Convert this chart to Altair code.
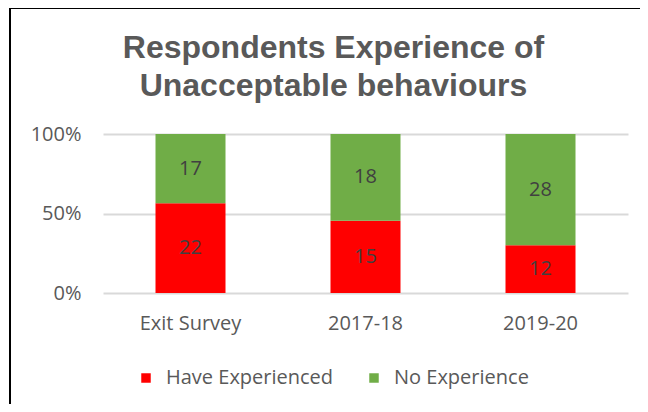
import altair as alt
import pandas as pd

categories = ["Exit Survey", "2017-18", "2019-20"]
series = ["Have Experienced", "No Experience"]
have_experienced = [22, 15, 12]
no_experience = [17, 18, 28]
colors = ["#FF0000", "#70AD47"]

rows = []
for i, c in enumerate(categories):
    rows.append({"category": c, "series": series[0], "value": have_experienced[i], "ord": 0})
    rows.append({"category": c, "series": series[1], "value": no_experience[i], "ord": 1})
df = pd.DataFrame(rows)

FONT = "Open Sans"
GRAY = "#595959"

base = alt.Chart(df).transform_stack(
    stack="value",
    groupby=["category"],
    as_=["y0", "y1"],
    offset="normalize",
    sort=[alt.SortField("ord", order="ascending")],
).transform_calculate(mid="(datum.y0 + datum.y1) / 2")

x_enc = alt.X(
    "category:N",
    sort=categories,
    title=None,
    scale=alt.Scale(paddingInner=0.6, paddingOuter=0.3),
    axis=alt.Axis(labelAngle=0, labelFont=FONT, labelFontSize=20, labelColor=GRAY,
                  ticks=False, domain=False, labelPadding=20),
)

bars = base.mark_bar().encode(
    x=x_enc,
    y=alt.Y("y0:Q", title=None, scale=alt.Scale(domain=[0, 1]),
            axis=alt.Axis(values=[0, 0.5, 1], format="%", labelFont=FONT, labelFontSize=20,
                          labelColor=GRAY, ticks=False, domain=False, labelPadding=22,
                          gridColor="#D9D9D9", gridWidth=2)),
    y2="y1:Q",
    color=alt.Color("series:N", scale=alt.Scale(domain=series, range=colors), title=None,
                    legend=alt.Legend(orient="none", legendX=33, legendY=234, direction="horizontal",
                                      columns=2, symbolType="square", symbolSize=90,
                                      symbolStrokeWidth=0, labelFont=FONT, labelFontSize=20,
                                      labelColor=GRAY, labelOffset=10, columnPadding=30,
                                      labelLimit=400, padding=0)),
)

labels = base.mark_text(font=FONT, fontSize=20, color="#404040", baseline="middle").encode(
    x=alt.X("category:N", sort=categories),
    y=alt.Y("mid:Q"),
    text=alt.Text("value:Q"),
)

border = alt.Chart(pd.DataFrame({"a": [0]})).mark_rect(
    filled=False, stroke="black", strokeWidth=2
).encode(
    x=alt.value(-93), y=alt.value(-126), x2=alt.value(800), y2=alt.value(500)
)

chart = alt.layer(bars, labels, border).properties(
    width=525,
    height=159,
    autosize=alt.AutoSizeParams(type="none"),
    padding={"left": 95, "top": 126, "right": 12, "bottom": 111},
    title=alt.TitleParams(
        text=["Respondents Experience of", "Unacceptable behaviours"],
        font="Liberation Sans", fontSize=32, fontWeight="bold", color=GRAY,
        anchor="middle", dx=-32, offset=0, dy=96, lineHeight=38,
    ),
).configure_view(stroke=None)

chart.save("out.html", embed_options={"renderer": "svg", "actions": False})
